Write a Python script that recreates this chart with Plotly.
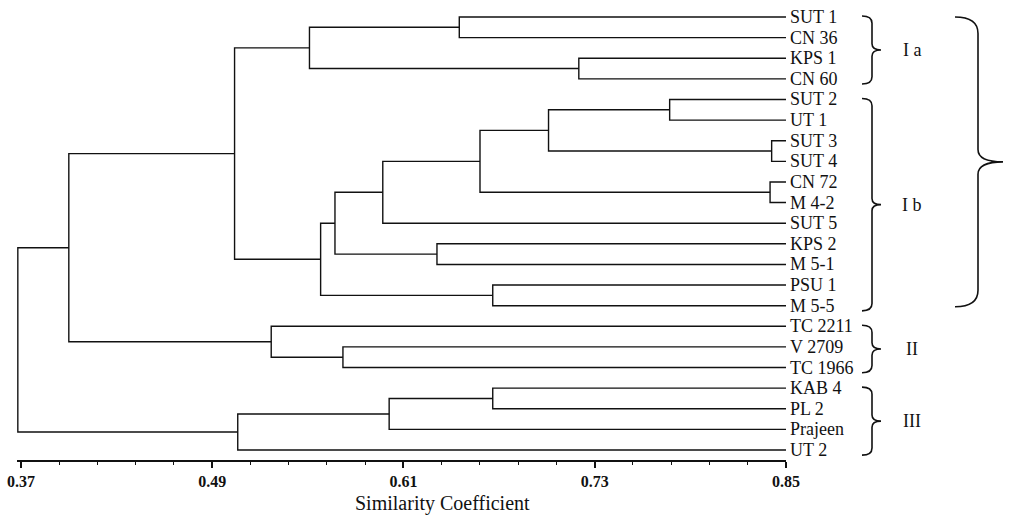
import plotly.graph_objects as go

# ---------------- data ----------------
leaf_labels = ["SUT 1", "CN 36", "KPS 1", "CN 60", "SUT 2", "UT 1", "SUT 3", "SUT 4",
               "CN 72", "M 4-2", "SUT 5", "KPS 2", "M 5-1", "PSU 1", "M 5-5",
               "TC 2211", "V 2709", "TC 1966", "KAB 4", "PL 2", "Prajeen", "UT 2"]

# merges: children are leaf labels or "N<k>" = result of k-th merge
merge_left = ["SUT 1", "KPS 1", "N0", "SUT 2", "SUT 3", "N3", "CN 72", "N5", "N7", "KPS 2",
              "N8", "PSU 1", "N10", "N2", "V 2709", "TC 2211", "N13", "KAB 4", "N17", "N18", "N16"]
merge_right = ["CN 36", "CN 60", "N1", "UT 1", "SUT 4", "N4", "M 4-2", "N6", "SUT 5", "M 5-1",
               "N9", "M 5-5", "N11", "N12", "TC 1966", "N14", "N15", "PL 2", "Prajeen", "UT 2", "N19"]
merge_height = [0.645, 0.720, 0.551, 0.777, 0.841, 0.701, 0.840, 0.658, 0.597, 0.631,
                0.567, 0.666, 0.558, 0.504, 0.572, 0.527, 0.400, 0.666, 0.601, 0.506, 0.368]

leaf_similarity = 0.85
tick_values = [0.37, 0.49, 0.61, 0.73, 0.85]
tick_labels = ["0.37", "0.49", "0.61", "0.73", "0.85"]

group_names = ["I a", "I b", "II", "III"]
group_first = ["SUT 1", "SUT 2", "TC 2211", "KAB 4"]
group_last = ["CN 60", "M 5-5", "TC 1966", "UT 2"]
super_group_first = "SUT 1"
super_group_last = "M 5-5"

axis_title = "Similarity Coefficient"

# ---------------- build dendrogram segments ----------------
pos = {lab: (leaf_similarity, i) for i, lab in enumerate(leaf_labels)}
xs, ys = [], []
for k, (a, b, h) in enumerate(zip(merge_left, merge_right, merge_height)):
    xa, ya = pos[a]
    xb, yb = pos[b]
    xs += [xa, h, h, xb, None]
    ys += [ya, ya, yb, yb, None]
    pos["N%d" % k] = (h, (ya + yb) / 2.0)

fig = go.Figure()
fig.add_trace(go.Scatter(x=xs, y=ys, mode="lines", xaxis="x", yaxis="y",
                         line=dict(color="#111111", width=1.4), hoverinfo="skip",
                         showlegend=False))

W, H = 1020, 526
PLOT_H = 460
x_lo, x_hi = 0.3675, 0.8501
px_per_unit = 1593.75
dom_l = (21 - (0.37 - x_lo) * px_per_unit) / W
dom_r = (786 + (x_hi - 0.85) * px_per_unit) / W

y_top, y_bot = -0.824, 21.484

annotations = []
for i, lab in enumerate(leaf_labels):
    annotations.append(dict(x=leaf_similarity, y=i, xref="x", yref="y", text=lab,
                            showarrow=False, xanchor="left", yanchor="middle", xshift=2,
                            font=dict(family="Liberation Serif", size=18, color="#111111")))

shapes = []
idx = {lab: i for i, lab in enumerate(leaf_labels)}


def brace(top, bot, x_end, x_spine, x_tip, r_end, r_tip):
    mid = (top + bot) / 2.0
    return ("M %f,%f Q %f,%f %f,%f L %f,%f Q %f,%f %f,%f Q %f,%f %f,%f L %f,%f Q %f,%f %f,%f" % (
        x_end, top, x_spine, top, x_spine, top + r_end,
        x_spine, mid - r_tip, x_spine, mid, x_tip, mid,
        x_spine, mid, x_spine, mid + r_tip,
        x_spine, bot - r_end, x_spine, bot, x_end, bot))


for name, f, l in zip(group_names, group_first, group_last):
    top = idx[f] - 0.05
    bot = idx[l] + 0.25
    shapes.append(dict(type="path", xref="x2", yref="y",
                       path=brace(top, bot, 862, 872, 881, 0.35, 0.3),
                       line=dict(color="#111111", width=1.6)))
    annotations.append(dict(x=912, y=(top + bot) / 2.0, xref="x2", yref="y", text=name,
                            showarrow=False, xanchor="center", yanchor="middle",
                            font=dict(family="Liberation Serif", size=18, color="#111111")))

top = idx[super_group_first]
bot = idx[super_group_last] + 0.05
shapes.append(dict(type="path", xref="x2", yref="y",
                   path=brace(top, bot, 955, 978, 1003, 0.8, 0.6),
                   line=dict(color="#111111", width=1.6)))

annotations.append(dict(x=442, y=1 - 503 / PLOT_H, xref="x2", yref="paper", text=axis_title,
                        showarrow=False, xanchor="center", yanchor="middle",
                        font=dict(family="Liberation Serif", size=20, color="#111111")))

fig.update_layout(
    template="none",
    width=W, height=H, autosize=False,
    margin=dict(l=0, r=0, t=0, b=H - PLOT_H, pad=0, autoexpand=False),
    paper_bgcolor="white", plot_bgcolor="rgba(0,0,0,0)",
    showlegend=False,
    xaxis=dict(domain=[dom_l, dom_r], range=[x_lo, x_hi], anchor="y", automargin=False,
               showgrid=False, zeroline=False, showline=True, linecolor="#111111", linewidth=2,
               tickmode="array", tickvals=tick_values, ticktext=tick_labels,
               ticks="outside", ticklen=6, tickwidth=1.5, tickcolor="#111111",
               tickfont=dict(family="Liberation Serif", size=16, color="#111111", weight="bold"),
               minor=dict(tickmode="linear", tick0=0.37, dtick=0.024, ticks="outside",
                          ticklen=3, tickwidth=1.2, tickcolor="#111111", showgrid=False),
               fixedrange=True),
    xaxis2=dict(domain=[0, 1], range=[0, W], anchor="y", visible=False, automargin=False,
                showgrid=False, zeroline=False, fixedrange=True),
    yaxis=dict(domain=[0, 1], range=[y_bot, y_top], anchor="x", visible=False, automargin=False,
               showgrid=False, zeroline=False, fixedrange=True),
    shapes=shapes,
    annotations=annotations,
)

fig.write_html("out.html")
